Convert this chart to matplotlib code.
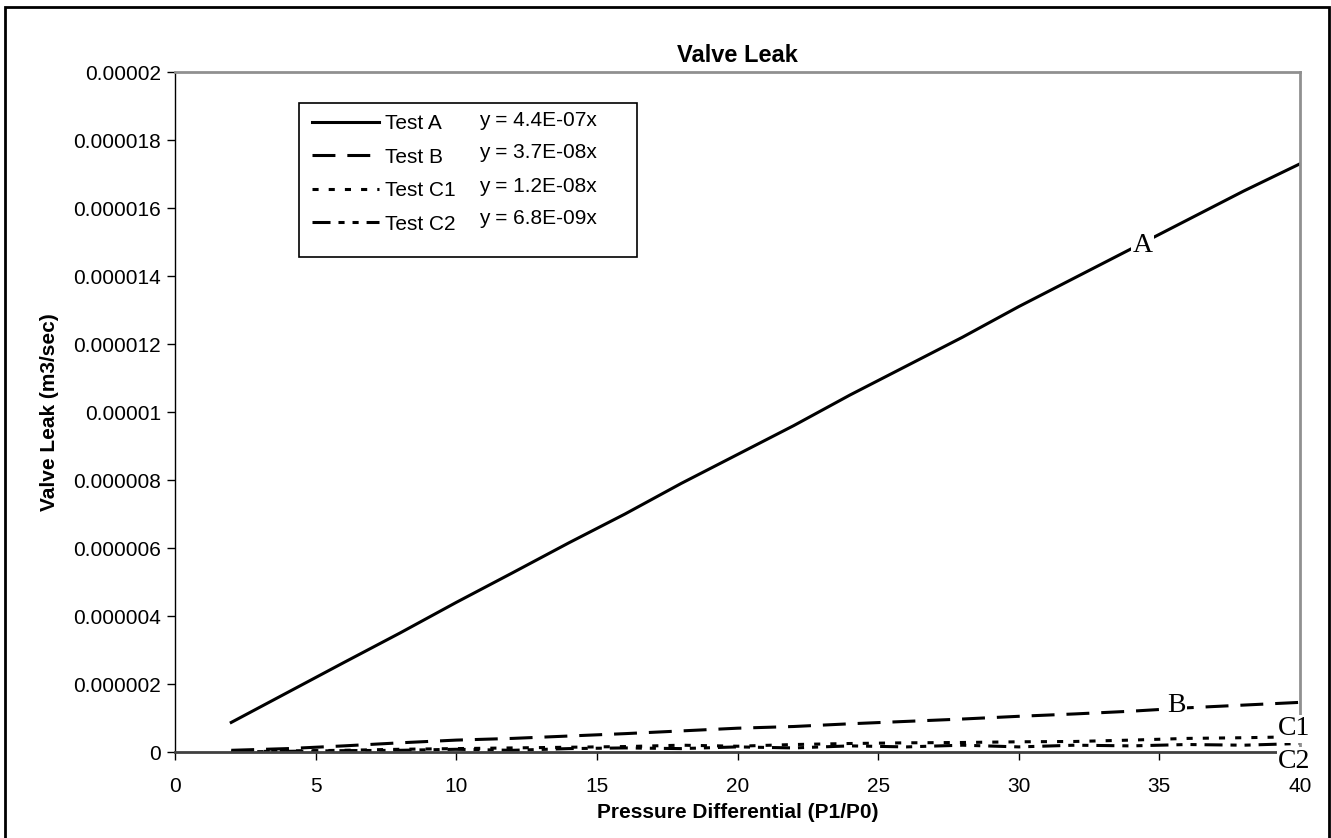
import numpy as np
import matplotlib
matplotlib.use('Agg')
import matplotlib.pyplot as plt
from matplotlib.patches import Rectangle

plt.rcParams['font.family'] = ['Liberation Sans', 'DejaVu Sans']

# pressure differential points
x = [2, 4, 6, 8, 10, 12, 14, 16, 18, 20, 22, 24, 26, 28, 30, 32, 34, 36, 38, 40]

# valve leak (m3/sec)
test_a = [0.87e-6, 1.75e-6, 2.63e-6, 3.5e-6, 4.4e-6, 5.27e-6, 6.15e-6, 7.0e-6, 7.9e-6, 8.75e-6,
          9.6e-6, 10.5e-6, 11.35e-6, 12.2e-6, 13.1e-6, 13.95e-6, 14.8e-6, 15.65e-6, 16.5e-6, 17.3e-6]
test_b = [0.05e-6, 0.1e-6, 0.18e-6, 0.27e-6, 0.35e-6, 0.4e-6, 0.47e-6, 0.54e-6, 0.62e-6, 0.7e-6,
          0.75e-6, 0.83e-6, 0.9e-6, 0.97e-6, 1.05e-6, 1.12e-6, 1.2e-6, 1.3e-6, 1.38e-6, 1.46e-6]
test_c1 = [0.0, 0.03e-6, 0.05e-6, 0.08e-6, 0.1e-6, 0.12e-6, 0.14e-6, 0.16e-6, 0.2e-6, 0.17e-6,
           0.22e-6, 0.25e-6, 0.27e-6, 0.28e-6, 0.3e-6, 0.31e-6, 0.35e-6, 0.4e-6, 0.42e-6, 0.45e-6]
test_c2 = [0.0, 0.02e-6, 0.04e-6, 0.05e-6, 0.08e-6, 0.05e-6, 0.1e-6, 0.12e-6, 0.1e-6, 0.15e-6,
           0.12e-6, 0.18e-6, 0.15e-6, 0.2e-6, 0.15e-6, 0.2e-6, 0.18e-6, 0.22e-6, 0.2e-6, 0.25e-6]

names = ['Test A', 'Test B', 'Test C1', 'Test C2']
slopes = [4.4e-7, 3.7e-8, 1.2e-8, 6.8e-9]
yticks = [0, 0.000002, 0.000004, 0.000006, 0.000008, 0.00001, 0.000012,
          0.000014, 0.000016, 0.000018, 0.00002]
ytick_labels = ['0', '0.000002', '0.000004', '0.000006', '0.000008', '0.00001',
                '0.000012', '0.000014', '0.000016', '0.000018', '0.00002']

W, H = 1331, 838
fig = plt.figure(figsize=(W / 100, H / 100), dpi=100)
ax = fig.add_axes([175 / W, 1 - 752 / H, (1300 - 175) / W, (752 - 72) / H])

lw = 2.2
styles = [
    dict(linestyle='-'),
    dict(dashes=(7.5, 3.9)),
    dict(dashes=(2.0, 3.3)),
    dict(dashes=(5.9, 2.6, 2.0, 2.6, 2.0, 2.6)),
]
series = [test_a, test_b, test_c1, test_c2]
handles = []
for ys, st, nm in zip(series, styles, names):
    h, = ax.plot(x, ys, color='black', lw=lw, label=nm, dash_capstyle='butt', **st)
    handles.append(h)

ax.set_xlim(0, 40)
ax.set_ylim(0, 0.00002)
ax.set_xticks(range(0, 41, 5))
ax.set_yticks(yticks)
ax.set_yticklabels(ytick_labels)
ax.tick_params(axis='both', direction='out', length=6, width=1, labelsize=15, color='black')
ax.tick_params(axis='y', pad=4)
ax.tick_params(axis='x', pad=12)

for s in ['top', 'right']:
    ax.spines[s].set_color('#909090')
    ax.spines[s].set_linewidth(2)
ax.spines['left'].set_color('black')
ax.spines['bottom'].set_color('#404040')
ax.spines['left'].set_linewidth(1)
ax.spines['bottom'].set_linewidth(2)

ax.set_title('Valve Leak', fontsize=17, fontweight='bold', pad=7)
ax.set_xlabel('Pressure Differential (P1/P0)', fontsize=15, fontweight='bold', labelpad=5)
ax.set_ylabel('Valve Leak (m3/sec)', fontsize=15, fontweight='bold', labelpad=10)

# legend box with trendline equations
leg = ax.legend(handles=handles, loc='upper left',
                bbox_to_anchor=(312 / W, 1 - 114 / H), bbox_transform=fig.transFigure,
                frameon=False, fontsize=15, handlelength=3.2, handletextpad=0.3,
                labelspacing=0.7, borderpad=0, borderaxespad=0)
fig.patches.append(Rectangle((299 / W, 1 - 257 / H), (637 - 299) / W, (257 - 103) / H,
                             transform=fig.transFigure, fill=False, ec='black', lw=1.2))
eq_y = [120, 153, 186, 218]
for s, yy in zip(slopes, eq_y):
    fig.text(479 / W, 1 - yy / H, 'y = ' + format(s, '.1E') + 'x', fontsize=15, va='center')

# curve labels
lab_kw = dict(family=['Liberation Serif', 'DejaVu Serif'], fontsize=20, ha='center', va='center',
              bbox=dict(fc='white', ec='none', pad=1), clip_on=False)
ax.text(34.4, 1.49e-5, 'A', **lab_kw)
ax.text(35.6, 1.38e-6, 'B', **lab_kw)
ax.text(39.8, 0.68e-6, 'C1', **lab_kw)
ax.text(39.8, -0.27e-6, 'C2', **lab_kw)

# outer chart border
fig.patches.append(Rectangle((5 / W, -0.01), (1329 - 5) / W, 1.01 - 7 / H,
                             transform=fig.transFigure, fill=False, ec='black', lw=2))

fig.savefig('out.png', dpi=100)
